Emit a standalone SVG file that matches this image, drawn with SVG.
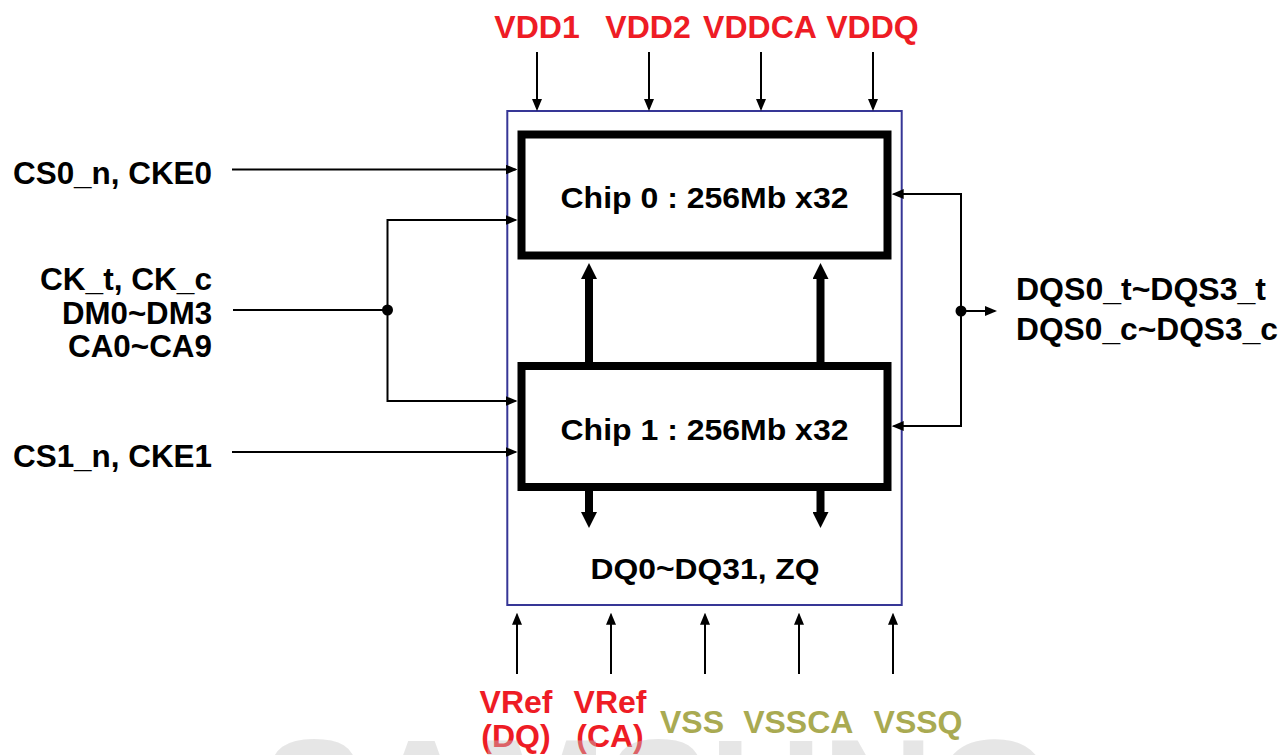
<svg xmlns="http://www.w3.org/2000/svg" width="1283" height="755" viewBox="0 0 1283 755">
<defs>
<style>
text{font-family:"Liberation Sans",Arial,Helvetica,sans-serif;font-weight:bold;}
.lbl{font-size:31px;fill:#000;}
.chipt{font-size:30px;fill:#000;}
.red{font-size:32px;fill:#ee1c25;}
.olive{font-size:32px;fill:#a9aa52;}
.thin{stroke:#000;stroke-width:2;fill:none;}
.thick{stroke:#000;stroke-width:8;fill:none;}
.chip{fill:#fff;stroke:#000;stroke-width:8;}
</style>
<marker id="ah" markerUnits="userSpaceOnUse" markerWidth="12" markerHeight="10" refX="10" refY="5" orient="auto-start-reverse">
<path d="M0,0 L12,5 L0,10 z" fill="#000"/>
</marker>
<marker id="ahT" markerUnits="userSpaceOnUse" markerWidth="16" markerHeight="16" refX="0" refY="8" orient="auto">
<path d="M0,0 L16,8 L0,16 z" fill="#000"/>
</marker>
</defs>
<rect width="1283" height="755" fill="#fff"/>

<g id="package">
<rect x="507.3" y="111" width="394.4" height="494" fill="none" stroke="#363696" stroke-width="2"/>
</g>

<g id="chip0">
<rect class="chip" x="521.5" y="134.5" width="366" height="121"/>
<text class="chipt" x="704.5" y="207.5" text-anchor="middle" textLength="288" lengthAdjust="spacingAndGlyphs">Chip 0 : 256Mb x32</text>
</g>
<g id="chip1">
<rect class="chip" x="521.5" y="366" width="366" height="121"/>
<text class="chipt" x="704.5" y="440" text-anchor="middle" textLength="288" lengthAdjust="spacingAndGlyphs">Chip 1 : 256Mb x32</text>
</g>

<g id="connectors">
<!-- power top -->
<line class="thin" x1="537" y1="52" x2="537" y2="109" marker-end="url(#ah)"/>
<line class="thin" x1="649" y1="52" x2="649" y2="109" marker-end="url(#ah)"/>
<line class="thin" x1="761" y1="52" x2="761" y2="109" marker-end="url(#ah)"/>
<line class="thin" x1="873" y1="52" x2="873" y2="109" marker-end="url(#ah)"/>
<!-- bottom supplies -->
<line class="thin" x1="517" y1="674" x2="517" y2="614.7" marker-end="url(#ah)"/>
<line class="thin" x1="611" y1="674" x2="611" y2="614.7" marker-end="url(#ah)"/>
<line class="thin" x1="705" y1="674" x2="705" y2="614.7" marker-end="url(#ah)"/>
<line class="thin" x1="799" y1="674" x2="799" y2="614.7" marker-end="url(#ah)"/>
<line class="thin" x1="893" y1="674" x2="893" y2="614.7" marker-end="url(#ah)"/>
<!-- left inputs -->
<line class="thin" x1="232" y1="169.5" x2="515.5" y2="169.5" marker-end="url(#ah)"/>
<line class="thin" x1="232" y1="452" x2="515.5" y2="452" marker-end="url(#ah)"/>
<line class="thin" x1="233" y1="310" x2="387.5" y2="310"/>
<path class="thin" d="M515.5,220 H387.5 V401 H515.5" marker-start="url(#ah)" marker-end="url(#ah)"/>
<circle cx="387.5" cy="310" r="5.5" fill="#000"/>
<!-- right DQS -->
<path class="thin" d="M893.7,194 H961 V426 H893.7" marker-start="url(#ah)" marker-end="url(#ah)"/>
<line class="thin" x1="961" y1="311" x2="995" y2="311" marker-end="url(#ah)"/>
<circle cx="961" cy="311" r="5.5" fill="#000"/>
<!-- thick inter-chip -->
<line class="thick" x1="589" y1="362" x2="589" y2="279" marker-end="url(#ahT)"/>
<line class="thick" x1="820.5" y1="362" x2="820.5" y2="279" marker-end="url(#ahT)"/>
<line class="thick" x1="589" y1="490" x2="589" y2="512" marker-end="url(#ahT)"/>
<line class="thick" x1="820.5" y1="490" x2="820.5" y2="512" marker-end="url(#ahT)"/>
</g>

<g id="labels">
<text class="red" x="537" y="38" text-anchor="middle">VDD1</text>
<text class="red" x="648" y="38" text-anchor="middle">VDD2</text>
<text class="red" x="760" y="38" text-anchor="middle">VDDCA</text>
<text class="red" x="872.5" y="38" text-anchor="middle">VDDQ</text>

<text class="lbl" x="212" y="183.5" text-anchor="end" textLength="199" lengthAdjust="spacingAndGlyphs">CS0_n, CKE0</text>
<text class="lbl" x="212" y="289.5" text-anchor="end" textLength="172" lengthAdjust="spacingAndGlyphs">CK_t, CK_c</text>
<text class="lbl" x="212" y="323.5" text-anchor="end" textLength="150" lengthAdjust="spacingAndGlyphs">DM0~DM3</text>
<text class="lbl" x="212" y="356.5" text-anchor="end" textLength="144" lengthAdjust="spacingAndGlyphs">CA0~CA9</text>
<text class="lbl" x="212" y="466.5" text-anchor="end" textLength="199" lengthAdjust="spacingAndGlyphs">CS1_n, CKE1</text>

<text class="lbl" x="1016" y="300" textLength="250" lengthAdjust="spacingAndGlyphs">DQS0_t~DQS3_t</text>
<text class="lbl" x="1016" y="340" textLength="262" lengthAdjust="spacingAndGlyphs">DQS0_c~DQS3_c</text>

<text class="chipt" x="705" y="578.5" text-anchor="middle" textLength="229" lengthAdjust="spacingAndGlyphs">DQ0~DQ31, ZQ</text>

<text class="red" x="516" y="712.7" text-anchor="middle">VRef</text>
<text class="red" x="516" y="747" text-anchor="middle">(DQ)</text>
<text class="red" x="610" y="712.7" text-anchor="middle">VRef</text>
<text class="red" x="610" y="747" text-anchor="middle">(CA)</text>
<text class="olive" x="692" y="733.3" text-anchor="middle">VSS</text>
<text class="olive" x="798.3" y="733.3" text-anchor="middle">VSSCA</text>
<text class="olive" x="918" y="733.3" text-anchor="middle">VSSQ</text>
</g>

<g id="watermark">
<text x="262" y="848" font-size="155" fill="#c4c4c4" fill-opacity="0.42">SAMSUNG</text>
</g>
</svg>
